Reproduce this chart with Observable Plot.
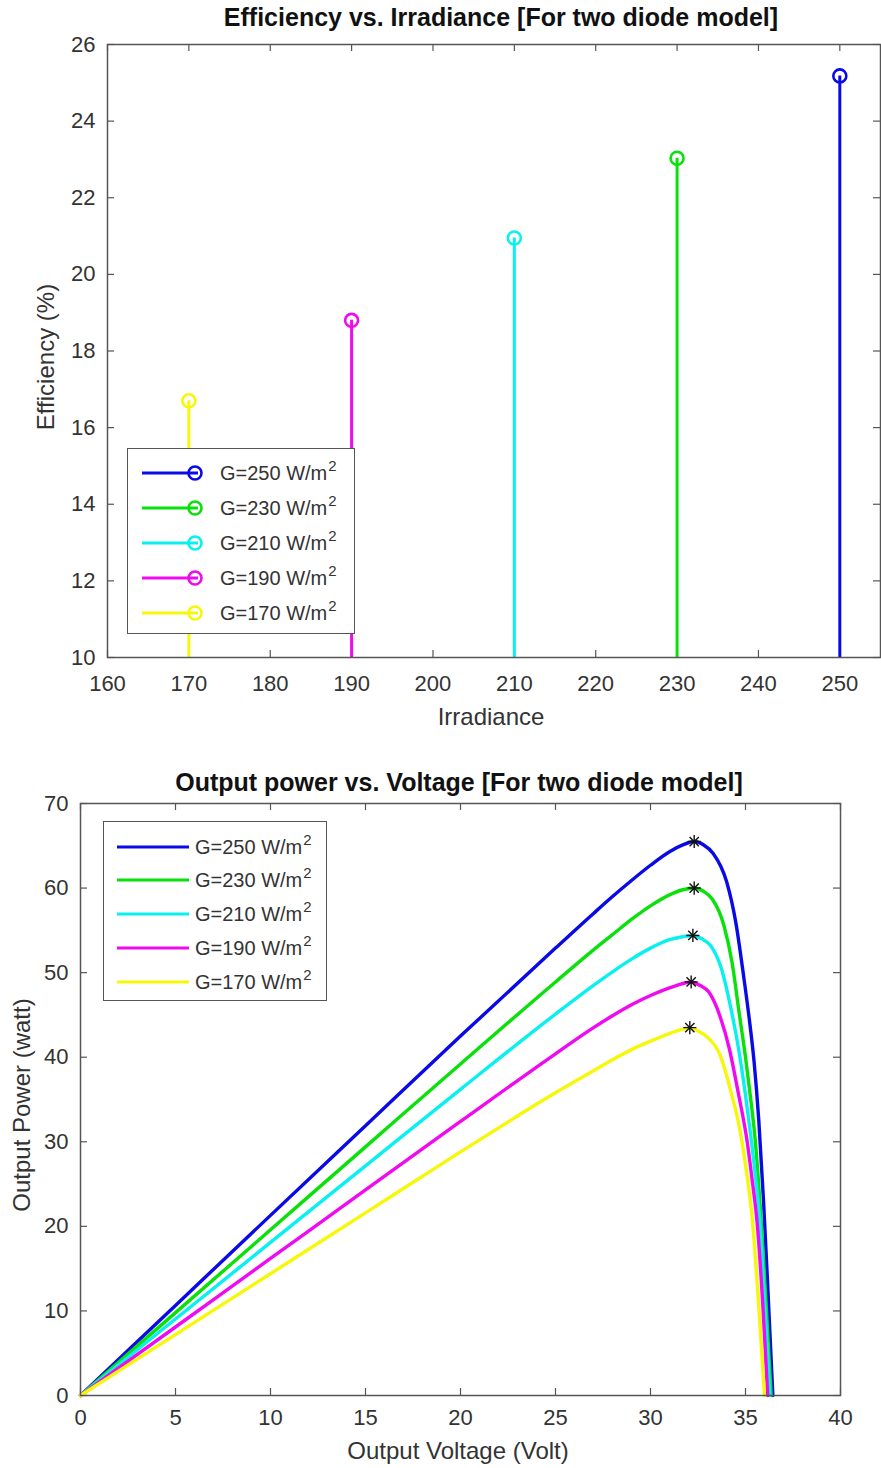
<!DOCTYPE html>
<html>
<head>
<meta charset="utf-8">
<script src="https://cdn.jsdelivr.net/npm/d3@7"></script>
<script src="https://cdn.jsdelivr.net/npm/@observablehq/plot@0.6"></script>
<style>
  body { margin: 0; background: #fff; font-family: "Liberation Sans", Arial, sans-serif; }
  #page { position: relative; width: 881px; height: 1468px; overflow: hidden; background: #fff; }
  .abs { position: absolute; line-height: 1; white-space: nowrap; }
  .title { font-weight: bold; font-size: 25px; color: #111; transform: translateX(-50%); }
  .axlabel { font-size: 24px; color: #333; }
  .hlabel { transform: translateX(-50%); }
  .vlabel { transform: translate(-50%, -50%) rotate(-90deg); }
  .legend { position: absolute; background: #fff; border: 1.5px solid #555; box-sizing: border-box; }
  .row { position: absolute; left: 0; height: 30px; width: 100%; }
  .row svg { position: absolute; left: 0; top: 0; }
  .row .txt { position: absolute; top: 5px; font-size: 20px; color: #333; line-height: 1; white-space: nowrap; }
  .row .txt sup { font-size: 15px; position: relative; top: -5px; vertical-align: top; margin-left: 1px; }
  svg.plot { position: absolute; left: 0; }
</style>
</head>
<body>
<div id="page"></div>
<script>
// ---------------- DATA ----------------
const irradiance = [170, 190, 210, 230, 250];           // W/m^2
const efficiency = [16.7, 18.8, 20.95, 23.03, 25.18];   // %
const palette = ["#f7f70a", "#f00af0", "#0af0f0", "#0ae00a", "#0a0ae6"]; // per irradiance

const effTicksX = [160, 170, 180, 190, 200, 210, 220, 230, 240, 250];
const effTicksY = [10, 12, 14, 16, 18, 20, 22, 24, 26];
const effDomainX = [160, 255];
const effDomainY = [10, 26];

const pvTicksX = [0, 5, 10, 15, 20, 25, 30, 35, 40];
const pvTicksY = [0, 10, 20, 30, 40, 50, 60, 70];
const pvDomainX = [0, 40];
const pvDomainY = [0, 70];

// Output power vs voltage curves
const v250 = [0, 5, 10, 15, 20, 25, 27, 28, 29, 30, 31, 31.7, 32.3, 32.8, 33.3, 34.0, 34.5, 34.9, 35.2, 35.45, 35.7, 35.95, 36.2, 36.44];
const p250 = [0, 10.65, 21.3, 31.9, 42.5, 52.9, 57.0, 59.0, 60.9, 62.7, 64.3, 65.1, 65.5, 65.1, 64.1, 60.8, 55.8, 49.6, 44.5, 39.5, 32.5, 23.0, 11.5, 0];

const v230 = [0, 5, 10, 15, 20, 25, 27, 28, 29, 30, 31, 31.7, 32.3, 32.8, 33.25, 33.86, 34.3, 34.65, 35.0, 35.25, 35.5, 35.8, 36.08, 36.35];
const p230 = [0, 9.8, 19.6, 29.4, 39.2, 48.9, 52.7, 54.5, 56.3, 57.9, 59.2, 59.8, 60.0, 59.6, 58.7, 55.6, 51.1, 45.5, 40.0, 35.5, 30.5, 21.5, 11.0, 0];

const v210 = [0, 5, 10, 15, 20, 25, 27, 28, 29, 30, 31, 31.7, 32.23, 32.7, 33.16, 33.77, 34.21, 34.65, 35.0, 35.26, 35.52, 35.74, 36.02, 36.28];
const p210 = [0, 9.05, 18.1, 27.15, 36.2, 45.1, 48.5, 50.1, 51.6, 52.9, 53.9, 54.25, 54.4, 54.0, 53.2, 50.2, 46.0, 40.8, 35.5, 31.0, 26.0, 21.0, 10.5, 0];

const v190 = [0, 5, 10, 15, 20, 25, 27, 28, 29, 30, 31, 31.6, 32.14, 32.6, 33.07, 33.68, 34.15, 34.6, 35.09, 35.35, 35.61, 35.93, 36.17];
const p190 = [0, 8.1, 16.2, 24.3, 32.4, 40.4, 43.5, 44.9, 46.2, 47.3, 48.2, 48.65, 48.9, 48.5, 47.7, 44.7, 41.0, 36.0, 30.0, 25.5, 20.5, 10.0, 0];

const v170 = [0, 5, 10, 15, 20, 25, 27, 28, 29, 30, 31, 31.6, 32.07, 32.5, 32.98, 33.65, 34.2, 34.74, 35.05, 35.35, 35.7, 36.0];
const p170 = [0, 7.2, 14.4, 21.6, 28.8, 35.8, 38.4, 39.7, 40.9, 41.9, 42.8, 43.25, 43.5, 43.1, 42.4, 40.3, 36.2, 31.0, 26.5, 21.0, 10.5, 0];

// Maximum power points (asterisks)
const peakV = [32.07, 32.14, 32.23, 32.3, 32.3];
const peakP = [43.5, 48.9, 54.4, 60.0, 65.5];

// ---------------- TABLES ----------------
const effData = irradiance.map((g, i) => ({g, eff: efficiency[i]}));
const curveList = [
  {g: 250, v: v250, p: p250},
  {g: 230, v: v230, p: p230},
  {g: 210, v: v210, p: p210},
  {g: 190, v: v190, p: p190},
  {g: 170, v: v170, p: p170}
];
const pvRows = curveList.flatMap(c => c.v.map((v, i) => ({g: c.g, v, p: c.p[i]})));
const peaks = irradiance.map((g, i) => ({g, v: peakV[i], p: peakP[i]}));
const colorOf = g => palette[irradiance.indexOf(g)];

const page = document.getElementById("page");
const FONT = '"Liberation Sans", Arial, sans-serif';
const AXIS = "#555";
const TICK = 7;

function addDiv(cls, text, left, top) {
  const d = document.createElement("div");
  d.className = "abs " + cls;
  d.textContent = text;
  d.style.left = left + "px";
  d.style.top = top + "px";
  page.appendChild(d);
  return d;
}

function boxTicks(xTicks, yTicks, innerW, innerH) {
  return [
    Plot.tickX(xTicks, {x: d => d, insetTop: innerH - TICK, stroke: AXIS, strokeWidth: 1.2}),
    Plot.tickX(xTicks, {x: d => d, insetBottom: innerH - TICK, stroke: AXIS, strokeWidth: 1.2}),
    Plot.tickY(yTicks, {y: d => d, insetRight: innerW - TICK, stroke: AXIS, strokeWidth: 1.2}),
    Plot.tickY(yTicks, {y: d => d, insetLeft: innerW - TICK, stroke: AXIS, strokeWidth: 1.2})
  ];
}

// ---------------- TOP: Efficiency vs Irradiance ----------------
{
  const W = 881, H = 740, mt = 44, mb = 83, ml = 107, mr = 1;
  const chart = Plot.plot({
    width: W, height: H,
    marginTop: mt, marginBottom: mb, marginLeft: ml, marginRight: mr,
    style: {fontFamily: FONT, fontSize: "22px", color: "#333", background: "transparent", overflow: "visible"},
    x: {domain: effDomainX},
    y: {domain: effDomainY},
    color: {type: "ordinal", domain: irradiance, range: palette},
    marks: [
      Plot.axisX(effTicksX, {tickSize: 0, tickPadding: 18, label: null}),
      Plot.axisY(effTicksY, {tickSize: 0, tickPadding: 12, label: null}),
      ...boxTicks(effTicksX, effTicksY, W - ml - mr, H - mt - mb),
      Plot.ruleX(effData, {x: "g", y1: effDomainY[0], y2: "eff", stroke: "g", strokeWidth: 3}),
      Plot.dot(effData, {x: "g", y: "eff", stroke: "g", r: 6.5, strokeWidth: 2.6, fill: "none"}),
      Plot.frame({stroke: AXIS, strokeWidth: 1.5})
    ]
  });
  chart.classList.add("plot");
  chart.style.top = "0px";
  page.appendChild(chart);

  addDiv("title", "Efficiency vs. Irradiance [For two diode model]", 501, 5);
  addDiv("axlabel hlabel", "Irradiance", 491, 705);
  addDiv("axlabel vlabel", "Efficiency (%)", 46, 357);
}

// ---------------- BOTTOM: Output power vs Voltage ----------------
{
  const top = 740;
  const W = 881, H = 728, mt = 63, mb = 73, ml = 80, mr = 41;
  const chart = Plot.plot({
    width: W, height: H,
    marginTop: mt, marginBottom: mb, marginLeft: ml, marginRight: mr,
    style: {fontFamily: FONT, fontSize: "22px", color: "#333", background: "transparent", overflow: "visible"},
    x: {domain: pvDomainX},
    y: {domain: pvDomainY},
    color: {type: "ordinal", domain: irradiance, range: palette},
    marks: [
      Plot.axisX(pvTicksX, {tickSize: 0, tickPadding: 14, label: null}),
      Plot.axisY(pvTicksY, {tickSize: 0, tickPadding: 12, label: null}),
      ...boxTicks(pvTicksX, pvTicksY, W - ml - mr, H - mt - mb),
      Plot.line(pvRows, {x: "v", y: "p", z: "g", stroke: "g", strokeWidth: 3.4, curve: "monotone-x"}),
      Plot.dot(peaks, {x: "v", y: "p", symbol: "plus", r: 4.3, stroke: "#111", strokeWidth: 1.4}),
      Plot.dot(peaks, {x: "v", y: "p", symbol: "times", r: 4.3, stroke: "#111", strokeWidth: 1.4}),
      Plot.frame({stroke: AXIS, strokeWidth: 1.5})
    ]
  });
  chart.classList.add("plot");
  chart.style.top = top + "px";
  page.appendChild(chart);

  addDiv("title", "Output power vs. Voltage [For two diode model]", 459, 770);
  addDiv("axlabel hlabel", "Output Voltage (Volt)", 458, 1439);
  addDiv("axlabel vlabel", "Output Power (watt)", 22, 1105);
}

// ---------------- LEGENDS ----------------
function legend(left, top, width, height, rowStart, rowStep, lineX1, lineX2, textX, marker) {
  const box = document.createElement("div");
  box.className = "legend";
  Object.assign(box.style, {left: left + "px", top: top + "px", width: width + "px", height: height + "px"});
  const order = irradiance.slice().reverse();
  order.forEach((g, i) => {
    const row = document.createElement("div");
    row.className = "row";
    row.style.top = (rowStart + i * rowStep - 15) + "px";
    const c = colorOf(g);
    let svg = `<svg width="${lineX2 + 12}" height="30"><line x1="${lineX1}" x2="${lineX2}" y1="15" y2="15" stroke="${c}" stroke-width="3.2"/>`;
    if (marker) svg += `<circle cx="${lineX2 - 3}" cy="15" r="6.5" fill="none" stroke="${c}" stroke-width="2.6"/>`;
    svg += `</svg>`;
    row.innerHTML = svg + `<span class="txt" style="left:${textX}px">G=${g} W/m<sup>2</sup></span>`;
    box.appendChild(row);
  });
  page.appendChild(box);
}
legend(127, 448, 228, 186, 23.7, 35, 14, 70, 92, true);
legend(103, 821, 224, 180, 24.7, 33.7, 13, 85, 91, false);
</script>
</body>
</html>
